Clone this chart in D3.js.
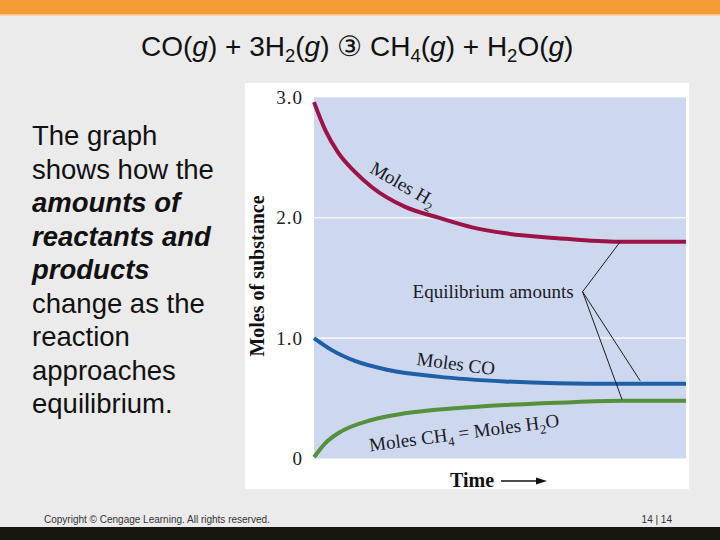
<!DOCTYPE html>
<html><head><meta charset="utf-8">
<script src="https://cdn.jsdelivr.net/npm/d3@7"></script>
<style>html,body{margin:0;padding:0;background:#ebebeb;}svg{display:block;}</style>
</head><body>
<svg id="c" width="720" height="540"></svg>
<script>
// ---- data ----
const yTicks = [0, 1, 2, 3];
const yTickLabels = ["0", "1.0", "2.0", "3.0"];
const gridValues = [1, 2];
const h2Time = [0, 0.3, 0.65, 1.1, 1.55, 2.45, 3.35, 4.25, 5.15, 6.55, 8.2, 10];
const h2Moles = [2.96, 2.73, 2.54, 2.38, 2.255, 2.09, 2.0, 1.92, 1.87, 1.83, 1.80, 1.80];
const coTime = [0, 0.48, 1.1, 2.0, 3.33, 5.13, 6.53, 8.2, 10];
const coMoles = [1.0, 0.90, 0.81, 0.735, 0.68, 0.64, 0.625, 0.62, 0.62];
const ch4Time = [0, 0.3, 0.65, 1.55, 2.45, 3.8, 5.13, 6.53, 8.3, 10];
const ch4Moles = [0.01, 0.126, 0.21, 0.32, 0.375, 0.417, 0.444, 0.463, 0.48, 0.48];
// annotation "Equilibrium amounts": hub point and the three equilibrium points (time, moles)
const hubPoint = [7.22, 1.385];
const eqTime = [8.23, 8.77, 8.28];
const eqMoles = [1.80, 0.645, 0.49];

const svg = d3.select("#c");
const W = 720, H = 540;

// slide background
svg.append("rect").attr("width", W).attr("height", H).attr("fill", "#ebebeb");
svg.append("rect").attr("x", 0).attr("y", 0).attr("width", W).attr("height", 15).attr("fill", "#f59c38");
svg.append("rect").attr("x", 0).attr("y", 14).attr("width", W).attr("height", 1.5).attr("fill", "#f8c27e");
svg.append("rect").attr("x", 0).attr("y", 527).attr("width", W).attr("height", 13).attr("fill", "#17160f");

// title
const title = svg.append("text").attr("x", 141).attr("y", 56)
  .attr("font-family", "Liberation Sans, Arial, sans-serif").attr("font-size", 28).attr("fill", "#111");
function addChem(t, parts) {
  parts.forEach(p => {
    const ts = t.append("tspan").text(p[0]);
    if (p[1] === "sub") ts.attr("font-size", "0.66em").attr("dy", 6);
    if (p[1] === "after") ts.attr("dy", -6);
    if (p[1] === "it") ts.attr("font-style", "italic");
  });
}
addChem(title, [["CO("], ["g", "it"], [") + 3H"], ["2", "sub"], ["(", "after"], ["g", "it"], [") \u2462 CH"], ["4", "sub"], ["(", "after"], ["g", "it"], [") + H"], ["2", "sub"], ["O", "after"], ["("], ["g", "it"], [")"]]);

// left text
const leftLines = [
  ["The graph", false], ["shows how the", false], ["amounts of", true], ["reactants and", true],
  ["products", true], ["change as the", false], ["reaction", false], ["approaches", false], ["equilibrium.", false]
];
svg.append("g").selectAll("text").data(leftLines).join("text")
  .attr("x", 32).attr("y", (d, i) => 145 + i * 33.5)
  .attr("font-family", "Liberation Sans, Arial, sans-serif").attr("font-size", 27.5).attr("fill", "#111")
  .attr("font-weight", d => d[1] ? "bold" : "normal").attr("font-style", d => d[1] ? "italic" : "normal")
  .text(d => d[0]);

// footer
svg.append("text").attr("x", 44).attr("y", 522.5).attr("font-family", "Liberation Sans, Arial, sans-serif")
  .attr("font-size", 10).attr("fill", "#333").text("Copyright \u00a9 Cengage Learning. All rights reserved.");
svg.append("text").attr("x", 672).attr("y", 522.5).attr("text-anchor", "end").attr("font-family", "Liberation Sans, Arial, sans-serif")
  .attr("font-size", 10).attr("fill", "#333").text("14 | 14");

// chart panel
svg.append("rect").attr("x", 245).attr("y", 83).attr("width", 444).attr("height", 406).attr("fill", "#ffffff");

const x = d3.scaleLinear().domain([0, 10]).range([314, 686]);
const y = d3.scaleLinear().domain([0, 3]).range([458.5, 97.3]);

svg.append("rect").attr("x", x(0)).attr("y", y(3)).attr("width", x(10) - x(0)).attr("height", y(0) - y(3)).attr("fill", "#cdd8ee");
svg.append("g").selectAll("line").data(gridValues).join("line")
  .attr("x1", x(0)).attr("x2", x(10)).attr("y1", d => y(d)).attr("y2", d => y(d))
  .attr("stroke", "#f2f5fb").attr("stroke-width", 1.6);

// y axis
const yAxis = d3.axisLeft(y).tickValues(yTicks).tickSize(0).tickPadding(11)
  .tickFormat((d, i) => yTickLabels[i]);
const ga = svg.append("g").attr("transform", `translate(${x(0)},0)`).call(yAxis);
ga.select(".domain").remove();
ga.selectAll("text").attr("font-family", "Liberation Serif, Times New Roman, serif").attr("font-size", 19)
  .attr("letter-spacing", 1).attr("fill", "#222");

// axis titles
svg.append("text").attr("transform", "translate(264,276) rotate(-90)").attr("text-anchor", "middle")
  .attr("font-family", "Liberation Serif, Times New Roman, serif").attr("font-weight", "bold").attr("font-size", 20)
  .attr("fill", "#111").text("Moles of substance");
svg.append("text").attr("x", 450).attr("y", 487).attr("font-family", "Liberation Serif, Times New Roman, serif")
  .attr("font-weight", "bold").attr("font-size", 20).attr("fill", "#111").text("Time");
svg.append("line").attr("x1", 501).attr("x2", 538).attr("y1", 481).attr("y2", 481).attr("stroke", "#111").attr("stroke-width", 1.5);
svg.append("path").attr("d", "M547,481 L536,477.5 L536,484.5 Z").attr("fill", "#111");

// curves
const line = d3.line().x(d => x(d[0])).y(d => y(d[1])).curve(d3.curveMonotoneX);
const series = [
  [h2Time, h2Moles, "#9b1445"],
  [coTime, coMoles, "#1f5fa6"],
  [ch4Time, ch4Moles, "#55913c"]
];
svg.append("g").selectAll("path").data(series).join("path")
  .attr("d", s => line(s[0].map((t, i) => [t, s[1][i]])))
  .attr("fill", "none").attr("stroke", s => s[2]).attr("stroke-width", 4).attr("stroke-linecap", "butt");

// annotation
svg.append("g").selectAll("line").data(eqTime).join("line")
  .attr("x1", x(hubPoint[0])).attr("y1", y(hubPoint[1]))
  .attr("x2", d => x(d)).attr("y2", (d, i) => y(eqMoles[i]))
  .attr("stroke", "#1a1a2a").attr("stroke-width", 1);
const serif = "Liberation Serif, Times New Roman, serif";
svg.append("text").attr("x", x(hubPoint[0]) - 9).attr("y", y(hubPoint[1]) + 6.5).attr("text-anchor", "end")
  .attr("font-family", serif).attr("font-size", 19).attr("fill", "#1a1a2a").text("Equilibrium amounts");

// curve labels
function label(cx, cy, ang, parts) {
  const t = svg.append("text").attr("transform", `translate(${cx},${cy}) rotate(${ang})`)
    .attr("text-anchor", "middle").attr("font-family", serif).attr("font-size", 19).attr("fill", "#1a1a2a");
  parts.forEach(p => {
    const ts = t.append("tspan").text(p[0]);
    if (p[1] === "sub") ts.attr("font-size", "0.68em").attr("dy", 5);
    if (p[1] === "after") ts.attr("dy", -5);
  });
}
label(400, 190, 30, [["Moles H"], ["2", "sub"]]);
label(455, 370, 7.4, [["Moles CO"]]);
label(465, 439, -7.5, [["Moles CH"], ["4", "sub"], [" = Moles H", "after"], ["2", "sub"], ["O", "after"]]);
</script>
</body></html>
